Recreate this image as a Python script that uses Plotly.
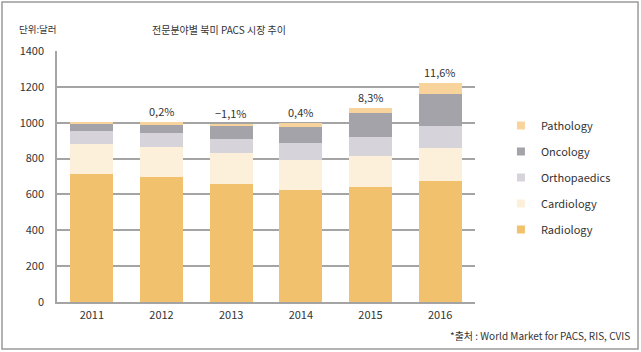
import plotly.graph_objects as go

years = ["2011", "2012", "2013", "2014", "2015", "2016"]
radiology = [712, 699, 658, 622, 643, 677]
cardiology = [168, 167, 171, 170, 171, 180]
orthopaedics = [74, 75, 80, 93, 108, 125]
oncology = [37, 46, 73, 93, 130, 176]
pathology = [14, 19, 13, 21, 30, 62]
growth_labels = ["", "0,2%", "−1,1%", "0,4%", "8,3%", "11,6%"]

series = [
    ("Radiology", radiology, "#F1C16D"),
    ("Cardiology", cardiology, "#FDF0DB"),
    ("Orthopaedics", orthopaedics, "#D6D4DA"),
    ("Oncology", oncology, "#A4A3A9"),
    ("Pathology", pathology, "#F8D49C"),
]

FONT = "Noto Sans CJK KR, sans-serif"
TXT = "#333333"

fig = go.Figure()
for name, vals, col in series:
    fig.add_trace(go.Bar(x=years, y=vals, name=name, marker_color=col,
                         marker_line_width=0, showlegend=False))

# legend entries (top to bottom)
for name, vals, col in reversed(series):
    fig.add_trace(go.Scatter(x=[years[0]], y=[None], mode="markers", name=name,
                             legendgroup=name,
                             marker=dict(symbol="square", size=8, color=col)))

totals = [sum(v) for v in zip(radiology, cardiology, orthopaedics, oncology, pathology)]
for i, (tot, lab) in enumerate(zip(totals, growth_labels)):
    if lab:
        fig.add_annotation(x=i, y=tot, text=lab, showarrow=False, yanchor="middle",
                           xanchor="center", yshift=11,
                           font=dict(family=FONT, size=11, color=TXT))

fig.add_annotation(x=0.3876, y=1.085, xref="paper", yref="paper", xanchor="center", yanchor="middle",
                   text="전문분야별 북미 PACS 시장 추이",
                   showarrow=False, font=dict(family=FONT, size=10, color=TXT))
fig.add_annotation(x=-0.0957, y=1.088, xref="paper", yref="paper", xanchor="left", yanchor="middle",
                   text="단위:달러",
                   showarrow=False, font=dict(family=FONT, size=9.5, color=TXT))
fig.add_annotation(x=1.3756, y=-0.135, xref="paper", yref="paper", xanchor="right", yanchor="middle",
                   text="*출처 : World Market for PACS, RIS, CVIS",
                   showarrow=False, font=dict(family=FONT, size=10, color=TXT))

fig.add_shape(type="rect", xref="paper", yref="paper", x0=-0.1316, x1=1.39, y0=-0.187, y1=1.195,
              line=dict(color="#9A9A9A", width=1.5), fillcolor="rgba(0,0,0,0)")

fig.update_layout(
    width=641, height=352,
    margin=dict(l=57, r=166, t=51, b=50),
    barmode="stack", bargap=0.38,
    plot_bgcolor="white", paper_bgcolor="white",
    font=dict(family=FONT, size=11, color=TXT),
    legend=dict(x=1.062, y=0.761, xanchor="left", yanchor="top", traceorder="grouped",
                tracegroupgap=7, itemwidth=30, font=dict(family=FONT, size=11, color=TXT),
                bgcolor="rgba(0,0,0,0)"),
)
fig.update_yaxes(range=[0, 1400], dtick=200, showgrid=True, gridcolor="#A4A4A4", gridwidth=1.5,
                 showline=True, linecolor="#A4A4A4", linewidth=1.5, zeroline=False,
                 ticks="", ticklabelstandoff=9, tickfont=dict(family=FONT, size=11, color=TXT))
fig.update_xaxes(type="category", range=[-0.5, len(years) - 0.5], showline=True,
                 linecolor="#A4A4A4", linewidth=1.5, ticks="",
                 ticklabelstandoff=2, tickfont=dict(family=FONT, size=11, color=TXT))

fig.write_html("out.html")
